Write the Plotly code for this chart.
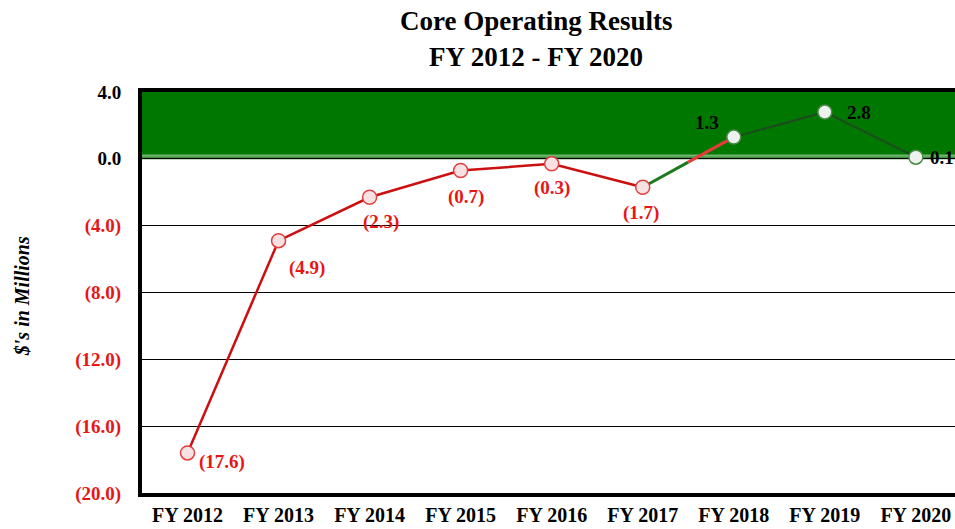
import plotly.graph_objects as go

years = ["FY 2012", "FY 2013", "FY 2014", "FY 2015", "FY 2016",
         "FY 2017", "FY 2018", "FY 2019", "FY 2020"]
values = [-17.6, -4.9, -2.3, -0.7, -0.3, -1.7, 1.3, 2.8, 0.1]
y_ticks = [4, 0, -4, -8, -12, -16, -20]
title_lines = ["Core Operating Results", "FY 2012 - FY 2020"]
y_title = "$'s in Millions"

# label offsets in pixels (style only): (dx right, dy down)
label_dx = [34, 28, 11, 5, 0, -2, -27, 34, 12]
label_dy = [9, 27, 25, 26, 24, 26, -15, 0, 0]
label_anchor = ["center"] * 8 + ["left"]

RED = "#e81515"
LINE_RED = "#cc1010"
GREEN_BAND = "#007800"
SERIF = "Liberation Serif, Times New Roman, serif"

def fmt(v):
    return f"({abs(v):.1f})" if v < 0 else f"{v:.1f}"

def tick_txt(v):
    if v < 0:
        return f"<span style='color:{RED}'>({abs(v):.1f})</span>"
    return f"{v:.1f}"

xi = list(range(len(years)))
neg_idx = [i for i, v in enumerate(values) if v < 0]
pos_idx = [i for i, v in enumerate(values) if v >= 0]
last_neg = neg_idx[-1]
first_pos = pos_idx[0]
mid_x = (last_neg + first_pos) / 2
mid_y = (values[last_neg] + values[first_pos]) / 2

fig = go.Figure()

fig.add_trace(go.Scatter(x=[xi[i] for i in neg_idx], y=[values[i] for i in neg_idx],
                         mode="lines", line=dict(color=LINE_RED, width=2.5),
                         hoverinfo="skip", showlegend=False))
fig.add_trace(go.Scatter(x=[last_neg, mid_x], y=[values[last_neg], mid_y],
                         mode="lines", line=dict(color="#1e7a1e", width=3),
                         hoverinfo="skip", showlegend=False))
fig.add_trace(go.Scatter(x=[mid_x, first_pos], y=[mid_y, values[first_pos]],
                         mode="lines", line=dict(color="#e83a3a", width=3),
                         hoverinfo="skip", showlegend=False))
fig.add_trace(go.Scatter(x=[xi[i] for i in pos_idx], y=[values[i] for i in pos_idx],
                         mode="lines", line=dict(color="#1f4a1f", width=2),
                         hoverinfo="skip", showlegend=False))

fig.add_trace(go.Scatter(
    x=xi, y=values, mode="markers",
    marker=dict(size=14,
                color=["#f6e2e2" if v < 0 else "#eef2ee" for v in values],
                line=dict(color=["#e04040" if v < 0 else "#4a8a4a" for v in values], width=1.5)),
    showlegend=False, cliponaxis=False))

shapes = [
    dict(type="rect", xref="paper", yref="y", x0=0, x1=1, y0=0.12, y1=4,
         fillcolor=GREEN_BAND, line=dict(width=0), layer="between"),
    dict(type="line", xref="paper", yref="y", x0=0, x1=1, y0=0.2, y1=0.2,
         line=dict(color="#6fb66f", width=2), layer="between"),
    dict(type="line", xref="paper", yref="y", x0=0, x1=1, y0=0.04, y1=0.04,
         line=dict(color="#0a6a0a", width=2), layer="between"),
]

annotations = [
    dict(text=f"<b>{title_lines[0]}</b>", xref="paper", yref="paper",
         x=0.485, y=1.177, xanchor="center", yanchor="middle", showarrow=False,
         font=dict(family=SERIF, size=27, color="black")),
    dict(text=f"<b>{title_lines[1]}</b>", xref="paper", yref="paper",
         x=0.485, y=1.087, xanchor="center", yanchor="middle", showarrow=False,
         font=dict(family=SERIF, size=27, color="black")),
    dict(text=f"<b><i>{y_title}</i></b>", xref="paper", yref="paper",
         x=-0.148, y=0.49, xanchor="center", yanchor="middle", showarrow=False,
         textangle=-90, font=dict(family=SERIF, size=20, color="black")),
]
for i, v in enumerate(values):
    annotations.append(dict(
        text=f"<b>{fmt(v)}</b>", x=xi[i], y=v, xref="x", yref="y",
        xanchor=label_anchor[i], yanchor="middle", showarrow=False,
        xshift=label_dx[i], yshift=-label_dy[i],
        font=dict(family=SERIF, size=19, color=RED if v < 0 else "black")))

fig.update_layout(
    width=955, height=529,
    margin=dict(l=142, r=0, t=92, b=36),
    paper_bgcolor="white", plot_bgcolor="white",
    shapes=shapes, annotations=annotations,
    xaxis=dict(range=[-0.5, 8.43], tickvals=xi,
               ticktext=[f"<b>{y}</b>" for y in years],
               tickfont=dict(family=SERIF, size=20, color="black"),
               showgrid=False, zeroline=False, showline=True, mirror=True,
               linecolor="black", linewidth=4, ticks="", ticklabelstandoff=1,
               automargin=False),
    yaxis=dict(range=[-20, 4], tickvals=y_ticks,
               ticktext=[f"<b>{tick_txt(v)}</b>" for v in y_ticks],
               tickfont=dict(family=SERIF, size=19, color="black"),
               showgrid=True, gridcolor="black", gridwidth=1, zeroline=False,
               showline=True, linecolor="black", linewidth=4, ticks="",
               ticklabelstandoff=13, automargin=False),
)

fig.write_html("out.html", post_script="document.body.style.margin='0';",
               config={"displayModeBar": False})
